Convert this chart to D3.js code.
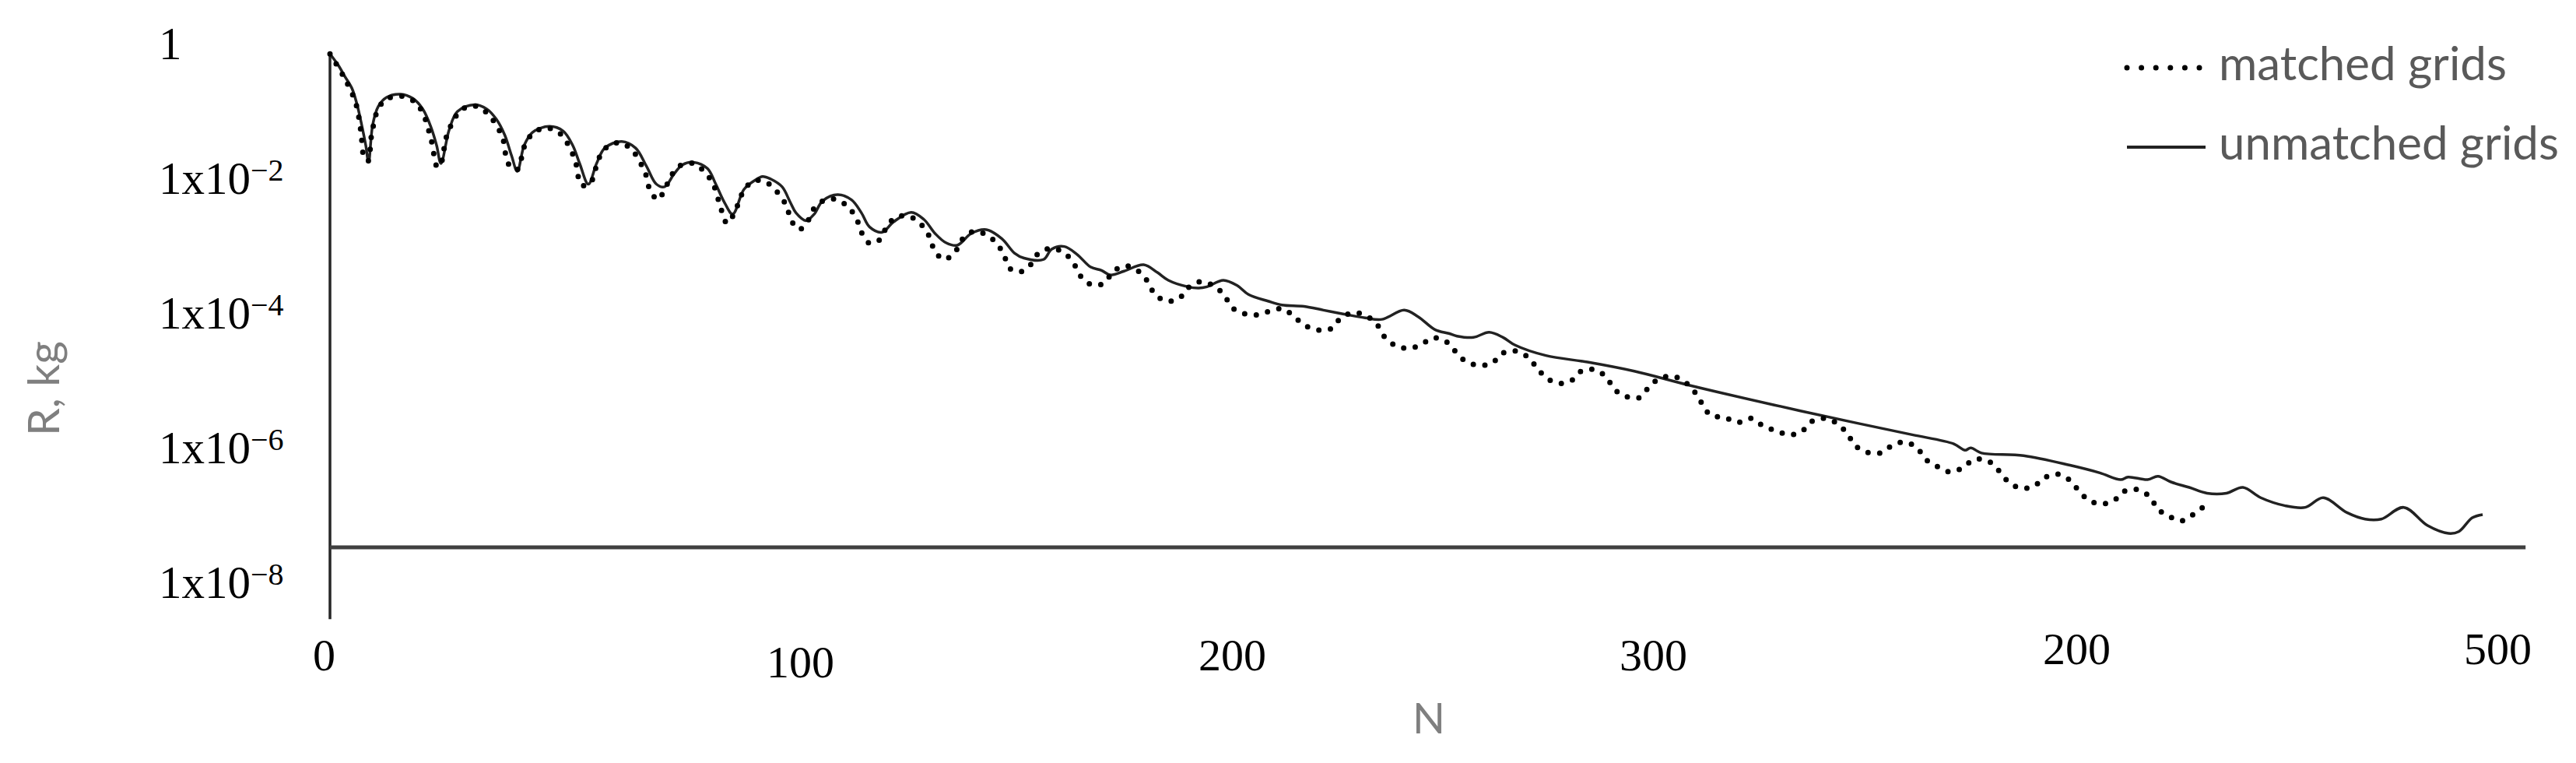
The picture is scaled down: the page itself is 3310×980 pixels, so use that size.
<!DOCTYPE html>
<html><head><meta charset="utf-8">
<script src="https://cdn.jsdelivr.net/npm/d3@7"></script>
<style>html,body{margin:0;padding:0;background:#fff;} svg{display:block;}</style>
</head><body><svg id="chart"></svg>
<script>
// ---------------- data ----------------
const seriesNames = ["matched grids", "unmatched grids"];

const xTickValues = [0, 100, 200, 300, 400, 500];
const xTickLabels = ["0", "100", "200", "300", "200", "500"];

const yTickValues = [1, 1e-2, 1e-4, 1e-6, 1e-8];
const yTickBase = ["1", "1x10", "1x10", "1x10", "1x10"];
const yTickExp = ["", "\u22122", "\u22124", "\u22126", "\u22128"];

// [N, R (kg)]
const unmatched = [
[0,0.684],[1.85,0.471],[3.45,0.316],[5.05,0.212],[6.2,0.1245],[7.3,0.0612],[8.26,0.0301],[8.9,0.0169],
[9.86,0.0612],[11.15,0.114],[13.07,0.155],[16.27,0.173],[19.16,0.149],[21.4,0.104],[23.3,0.0561],[24.6,0.0301],
[25.6,0.0162],[27.5,0.0513],[29.4,0.0955],[33.3,0.121],[36.2,0.104],[38.4,0.0731],[40.3,0.043],[41.9,0.0211],
[43.2,0.0124],[44.8,0.0301],[46.7,0.0469],[50.6,0.0575],[53.8,0.0491],[56.0,0.0301],[57.6,0.0162],[59.6,0.0080],
[61.5,0.0162],[63.4,0.0275],[67.3,0.0344],[70.5,0.0275],[73.0,0.0148],[75.3,0.0080],[77.2,0.0073],[79.4,0.0114],
[81.3,0.0155],[83.9,0.0169],[87.1,0.0136],[89.0,0.0080],[91.0,0.00428],[92.9,0.00287],[95.5,0.00668],[98.0,0.0091],
[99.8,0.0104],[101.7,0.0095],[104.3,0.0073],[106.2,0.00428],[107.5,0.0030],[109.8,0.0023],[111.7,0.00287],[113.6,0.00448],
[117.1,0.00559],[120.3,0.00468],[122.6,0.0030],[124.5,0.00185],[127.4,0.00155],[130.0,0.0022],[134.1,0.00306],[137.0,0.0024],
[139.6,0.00148],[142.1,0.00108],[144.7,0.00099],[147.9,0.00148],[151.4,0.00169],[155.0,0.00124],[157.9,0.00076],[160.1,0.00064],
[164.6,0.00061],[166.5,0.00087],[169.4,0.00095],[172.3,0.00073],[175.5,0.00047],[178.0,0.00042],[180.0,0.00036],[183.2,0.00041],
[187.7,0.00051],[190.9,0.00039],[193.4,0.00030],[197.9,0.00024],[200.4,0.00023],[202.3,0.00024],[206.1,0.00030],[209.3,0.00025],
[211.9,0.000184],[216.4,0.000147],[219.6,0.000129],[224.7,0.000123],[229.2,0.000108],[233.7,9.5e-5],[238.8,8.3e-5],[242.7,7.9e-5],
[247.8,1.08e-4],[251.0,8.65e-5],[254.9,5.56e-5],[258.1,4.87e-5],[260.0,4.45e-5],[263.8,4.26e-5],[267.4,5.08e-5],[270.6,4.26e-5],
[273.4,3.27e-5],[280.5,2.29e-5],[290.1,1.83e-5],[300.9,1.34e-5],[313.7,8.26e-6],[333,4.25e-6],[352.2,2.28e-6],[365,1.53e-6],
[374.6,1.12e-6],[377.2,9.0e-7],[378.5,9.8e-7],[381,8.2e-7],[390.7,7.5e-7],[401.4,5.4e-7],[408.3,4.16e-7],[413.1,3.3e-7],
[414.8,3.61e-7],[419.3,3.3e-7],[421.7,3.71e-7],[424.8,3.03e-7],[428.9,2.53e-7],[433.0,2.08e-7],[437.5,2.08e-7],[441.3,2.53e-7],
[445.4,1.78e-7],[450.9,1.36e-7],[455.7,1.28e-7],[459.8,1.78e-7],[465.3,1.07e-7],[469.5,8.57e-8],[473.2,8.57e-8],[478.4,1.28e-7],
[483.9,6.87e-8],[488.7,5.27e-8],[491.1,5.6e-8],[494.2,8.97e-8],[496.6,1.0e-7]
];

const matched = [
[0,0.684],[3.25,0.308],[5.9,0.130],[7.1,0.0504],[7.95,0.0194],[8.8,0.0177],[9.55,0.0411],[11.15,0.106],
[13.07,0.146],[16.27,0.1625],[19.5,0.134],[21.4,0.0912],[23.3,0.0376],[24.8,0.0142],[25.7,0.0169],[27.0,0.043],
[30.2,0.0997],[33.3,0.116],[36.2,0.0912],[39.7,0.0411],[41.1,0.0162],[43.1,0.013],[45.1,0.0321],[47.1,0.0469],
[49.9,0.0546],[53.1,0.0449],[56.4,0.0194],[58.0,0.0078],[59.9,0.0080],[62.1,0.0197],[64.0,0.0288],[66.9,0.033],
[69.8,0.0252],[72.9,0.0109],[73.7,0.0069],[75.6,0.0047],[77.4,0.0071],[78.8,0.0109],[80.8,0.0151],[83.9,0.0162],
[86.5,0.0119],[88.4,0.0080],[90.3,0.0033],[91.6,0.0021],[93.2,0.0029],[95.8,0.0070],[98.3,0.0091],[101.2,0.0081],
[105.3,0.00385],[106.2,0.00247],[108.2,0.00169],[110.2,0.00226],[111.7,0.00352],[114.3,0.00468],[117.1,0.00468],[119.8,0.00352],
[121.6,0.00234],[122.7,0.0015],[124.5,0.00106],[127.1,0.00124],[128.5,0.00193],[130.9,0.00263],[133.8,0.00263],[136.5,0.00198],
[138.3,0.00133],[139.4,0.00085],[141.6,0.00061],[144.1,0.00077],[145.7,0.00118],[148.2,0.00157],[151.1,0.00145],[153.8,0.00106],
[155.5,0.0007],[156.8,0.00045],[159.3,0.0004],[161.6,0.00051],[163.5,0.00076],[166.5,0.00089],[169.4,0.00076],[171.6,0.00053],
[173.1,0.00035],[175.5,0.00026],[178.6,0.00027],[180.6,0.0004],[183.5,0.00049],[186.5,0.00041],[188.6,0.00029],[190.2,0.00019],
[192.9,0.000147],[195.9,0.000161],[197.9,0.00023],[200.9,0.000286],[203.9,0.000247],[206.3,0.000179],[208.1,0.000118],[210.9,9.6e-5],
[213.9,9.2e-5],[216.9,1.05e-4],[219.9,1.13e-4],[222.5,8.5e-5],[225.0,6.35e-5],[228.1,5.46e-5],[231.1,5.8e-5],[233.2,8.28e-5],
[236.1,9.9e-5],[239.2,8.8e-5],[241.6,6.52e-5],[243.3,4.33e-5],[245.9,3.2e-5],[249.0,2.93e-5],[251.7,3.32e-5],[254.5,4.19e-5],
[257.4,3.73e-5],[259.7,2.61e-5],[262.0,1.88e-5],[265.0,1.65e-5],[268.0,1.75e-5],[270.4,2.46e-5],[273.4,2.69e-5],[276.3,2.19e-5],
[278.4,1.52e-5],[280.5,1.08e-5],[283.4,8.87e-6],[286.4,9.77e-6],[288.7,1.35e-5],[291.9,1.41e-5],[294.5,1.08e-5],[296.3,7.23e-6],
[299.0,5.64e-6],[302.0,5.4e-6],[304.1,7.55e-6],[306.5,1.03e-5],[309.7,1.13e-5],[312.6,9.27e-6],[314.9,6.5e-6],[316.6,4.36e-6],
[318.5,2.98e-6],[321.7,2.77e-6],[324.8,2.34e-6],[327.9,2.68e-6],[330.5,2.09e-6],[333.6,1.75e-6],[336.6,1.53e-6],[339.4,1.69e-6],
[341.7,2.38e-6],[344.8,2.68e-6],[347.7,2.24e-6],[350.0,1.6e-6],[351.9,1.05e-6],[354.6,8.4e-7],[357.7,8.2e-7],[360.2,1.04e-6],
[363.2,1.2e-6],[366.1,9.8e-7],[368.0,6.7e-7],[370.8,5.15e-7],[373.7,4.3e-7],[376.7,4.97e-7],[379.3,6.6e-7],[382.5,6.25e-7],
[384.9,4.55e-7],[387.0,3.16e-7],[389.8,2.49e-7],[393.0,2.62e-7],[395.4,3.48e-7],[398.5,3.98e-7],[401.2,3.3e-7],[403.4,2.28e-7],
[405.7,1.64e-7],[408.8,1.44e-7],[411.6,1.63e-7],[414.0,2.23e-7],[417.2,2.34e-7],[419.9,1.81e-7],[421.7,1.2e-7],[424.3,9.4e-8],
[427.1,8.07e-8],[429.8,1.0e-7],[432.5,1.36e-7]
];

// ---------------- layout ----------------
const W = 3310, H = 980;
const layout = {
  xRange: [424, 3209], yRange: [55, 747.5],
  yAxisTop: 0.72, yAxisBottom: 2.8e-9, xAxisAt: 3.27e-8, xAxisEnd: 506.5,
  yLabelX: 204,
  xLabelCenterY: 842,
  xLabelNudgeX: [-8, 47, 45, 29, 16, 0],
  xLabelNudgeY: [0, 9, 0, 0, -8, -8],
  legendX1: 2733, legendX2: 2834, legendTextX: 2851, legendY: [87, 189]
};

const svg = d3.select("#chart").attr("width", W).attr("height", H);
svg.append("rect").attr("width", W).attr("height", H).attr("fill", "#fff");

const x = d3.scaleLinear().domain([0, 500]).range(layout.xRange);
const y = d3.scaleLog().domain([1, 1e-8]).range(layout.yRange);

// axis lines
svg.append("line")
  .attr("x1", x(0)).attr("x2", x(0))
  .attr("y1", y(layout.yAxisTop)).attr("y2", y(layout.yAxisBottom))
  .attr("stroke", "#262626").attr("stroke-width", 3.5);
svg.append("line")
  .attr("x1", x(0)).attr("x2", x(layout.xAxisEnd))
  .attr("y1", y(layout.xAxisAt)).attr("y2", y(layout.xAxisAt))
  .attr("stroke", "#404040").attr("stroke-width", 5);

// y tick labels
const yAxis = d3.axisLeft(y).tickValues(yTickValues).tickSize(0).tickFormat(() => "");
const gy = svg.append("g").attr("transform", `translate(${layout.yLabelX},0)`).call(yAxis);
gy.select(".domain").remove();
gy.selectAll(".tick text").each(function(d, i) {
  const t = d3.select(this);
  t.attr("x", 0).attr("dy", null).attr("y", 20).attr("text-anchor", "start")
   .attr("fill", "#000").style("font-family", "'Liberation Serif', serif").style("font-size", "59px");
  t.text(null);
  t.append("tspan").text(yTickBase[i]);
  if (yTickExp[i]) t.append("tspan").attr("dy", -17).style("font-size", "40px").text(yTickExp[i]);
});

// x tick labels
const xAxis = d3.axisBottom(x).tickValues(xTickValues).tickSize(0).tickFormat((d, i) => xTickLabels[i]);
const gx = svg.append("g").attr("transform", `translate(0,${layout.xLabelCenterY})`).call(xAxis);
gx.select(".domain").remove();
gx.selectAll(".tick text")
  .attr("y", 19).attr("dy", null)
  .attr("fill", "#000")
  .style("font-family", "'Liberation Serif', serif").style("font-size", "58px")
  .attr("transform", (d, i) => `translate(${layout.xLabelNudgeX[i]},${layout.xLabelNudgeY[i]})`);

// axis titles
svg.append("text").attr("x", 1836).attr("y", 942).attr("text-anchor", "middle")
  .attr("fill", "#7f7f7f").style("font-family", "Lato, sans-serif").style("font-size", "55px").text("N");
svg.append("text").attr("transform", "translate(76,499) rotate(-90)").attr("text-anchor", "middle")
  .attr("fill", "#7f7f7f").style("font-family", "Lato, sans-serif").style("font-size", "57px").text("R, kg");

// lines
const line = d3.line().x(d => x(d[0])).y(d => y(d[1])).curve(d3.curveCatmullRom.alpha(0.5));
svg.append("path").datum(unmatched).attr("d", line).attr("fill", "none")
  .attr("stroke", "#222").attr("stroke-width", 3.5).attr("stroke-linejoin", "round");
svg.append("path").datum(matched).attr("d", line).attr("fill", "none")
  .attr("stroke", "#000").attr("stroke-width", 7).attr("stroke-linecap", "round")
  .attr("stroke-dasharray", "0 15");

// legend
const lg = svg.append("g");
lg.append("line").attr("x1", layout.legendX1).attr("x2", layout.legendX2)
  .attr("y1", layout.legendY[0]).attr("y2", layout.legendY[0])
  .attr("stroke", "#000").attr("stroke-width", 7).attr("stroke-linecap", "round").attr("stroke-dasharray", "0 18.6");
lg.append("line").attr("x1", layout.legendX1).attr("x2", layout.legendX2)
  .attr("y1", layout.legendY[1]).attr("y2", layout.legendY[1])
  .attr("stroke", "#222").attr("stroke-width", 4);
seriesNames.forEach((name, i) => {
  lg.append("text").attr("x", layout.legendTextX).attr("y", layout.legendY[i] + 16)
    .attr("fill", "#595959").style("font-family", "Lato, sans-serif").style("font-size", "60px").text(name);
});
</script>
</body></html>
